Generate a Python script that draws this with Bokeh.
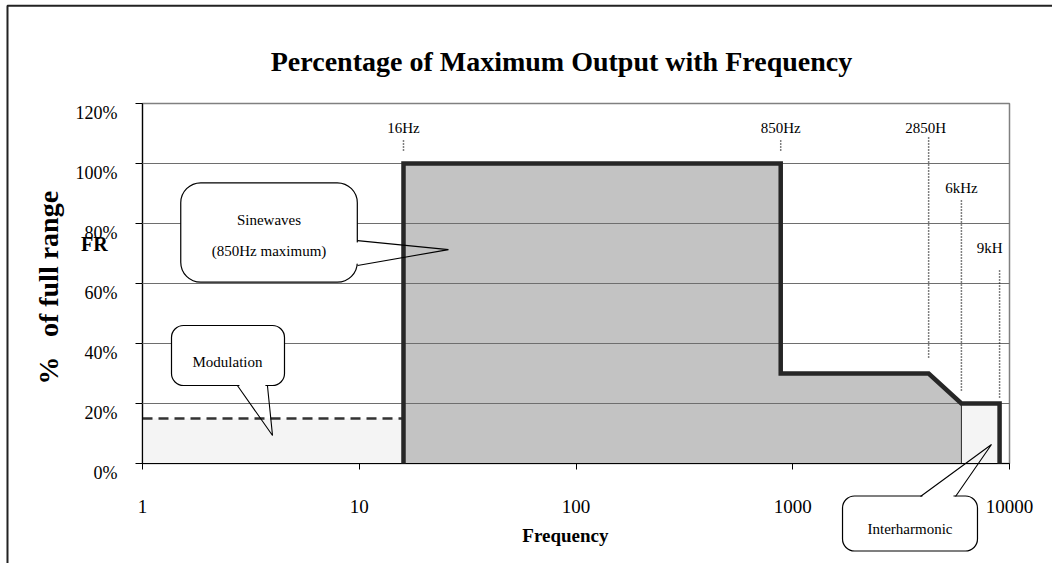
import math
from bokeh.plotting import figure
from bokeh.models import FixedTicker, CustomJSTickFormatter
from bokeh.core.properties import value
from bokeh.embed import file_html
from bokeh.resources import INLINE

# ---------------- data ----------------
x_ticks = [1, 10, 100, 1000, 10000]
y_ticks = [0, 20, 40, 60, 80, 100, 120]

# main sinewave envelope (Hz, % of full range)
main_freq = [16, 16, 880, 880, 4236, 6000, 6000]
main_pct = [0, 100, 100, 30, 30, 20, 0]

# thick outline of the allowed output
edge_freq = [16, 16, 880, 880, 4236, 6000, 9000, 9000]
edge_pct = [0, 100, 100, 30, 30, 20, 20, 0]

# modulation band
mod_freq = [1, 16]
mod_pct = 15

# interharmonic band
inter_freq = [6000, 9000]
inter_pct = 20

# frequency markers
mark_names = ["16Hz", "850Hz", "2850H", "6kHz", "9kH"]
mark_freq = [16, 880, 4236, 6000, 9000]
mark_label_freq = [16, 880, 4100, 6000, 8090]
mark_label_pct = [112, 112, 112, 92, 72]
mark_top = [108.3, 108.3, 108.7, 87.7, 65.0]
mark_bottom = [104.3, 104.3, 35.3, 24.3, 22.0]

SERIF = "Liberation Serif"

p = figure(width=1052, height=563, x_axis_type="log", x_range=(1, 10000), y_range=(0, 120),
           output_backend="svg", toolbar_location=None,
           min_border_left=142, min_border_right=43, min_border_top=103, min_border_bottom=100,
           background_fill_color="white", border_fill_color="white")
p.outline_line_color = "#808080"
p.outline_line_width = 1.5

# axes
p.xaxis.ticker = FixedTicker(ticks=x_ticks)
p.xaxis.formatter = CustomJSTickFormatter(code="return tick.toFixed(0);")
p.yaxis.ticker = FixedTicker(ticks=y_ticks)
p.yaxis.formatter = CustomJSTickFormatter(code="return '\\n' + tick.toFixed(0) + '%';")
for ax in (p.xaxis[0], p.yaxis[0]):
    ax.axis_line_color = "black"
    ax.axis_line_width = 1.2
    ax.major_tick_line_color = "black"
    ax.major_tick_in = 0
    ax.minor_tick_line_color = None
    ax.major_label_text_font = SERIF
    ax.major_label_text_color = "black"
p.xaxis.major_tick_out = 6
p.xaxis.major_label_standoff = 30
p.xaxis.major_label_text_font_size = "19px"
p.yaxis.major_tick_out = 7
p.yaxis.major_label_standoff = 18
p.yaxis.major_label_text_font_size = "18px"
p.yaxis.major_label_text_line_height = 0.9

p.xgrid.grid_line_color = None
p.ygrid.grid_line_color = "#6e6e6e"
p.ygrid.grid_line_width = 1.2
p.ygrid.level = "guide"

# fills
p.quad(left=mod_freq[0], right=mod_freq[1], bottom=0, top=mod_pct,
       fill_color="#f4f4f4", line_color=None)
p.line(mod_freq, [mod_pct, mod_pct], line_color="#333333", line_width=2.5, line_dash="10 6")
p.quad(left=inter_freq[0], right=inter_freq[1], bottom=0, top=inter_pct,
       fill_color="#f4f4f4", line_color="#444444", line_width=1)
p.patch(main_freq, main_pct, fill_color="#c3c3c3", line_color=None)
p.line([main_freq[-1], main_freq[-1]], [main_pct[-2], main_pct[-1]], line_color="#333333", line_width=1)

# frequency markers
for f, t, b in zip(mark_freq, mark_top, mark_bottom):
    p.line([f, f], [b, t], line_color="black", line_width=1.5, line_dash="1 2", level="overlay")
p.text(x=mark_label_freq, y=mark_label_pct, text=mark_names, text_font=value(SERIF),
       text_font_size=value("15px"), text_align="center", text_baseline="middle",
       text_color="black", level="overlay")

# thick outline
p.line(edge_freq, edge_pct, line_color="#262626", line_width=4.5, line_join="miter", level="overlay")

# ---------------- callouts ----------------
# padding order: (left, right, top, bottom); the padded box is centred on the anchor
def callout(text, x, y, yoff, pad, radius, base_a, base_b, tip, cover):
    p.text(x=[x], y=[y], y_offset=yoff, text=[text], text_font=value(SERIF),
           text_font_size=value("15px"), text_align="center", text_baseline="middle",
           text_color="black", text_line_height=0.98,
           background_fill_color="white", border_line_color="black",
           border_line_width=1.2, padding=pad, border_radius=radius, level="overlay")
    cx, cy = cover
    p.patch(cx, cy, fill_color="white", line_color=None, level="overlay")
    p.line([base_a[0], tip[0], base_b[0]], [base_a[1], tip[1], base_b[1]],
           line_color="black", line_width=1.1, level="overlay")

callout("Sinewaves\n\n(850Hz maximum)", 3.835, 77, 0, (31, 31, 29, 23), 20,
        (9.82, 74.3), (9.82, 66.0), (25.8, 71.3),
        ([9.5, 10.13, 10.13, 9.5], [73.7, 73.7, 66.6, 66.6]))
callout("Modulation", 2.48, 36, 0, (21, 22, 28, 16), 12,
        (2.74, 26), (3.77, 26), (3.98, 9.33),
        ([2.80, 3.69, 3.69, 2.80], [26.7, 26.7, 25.3, 25.3]))
callout("Interharmonic", 3475, 1, 63, (25, 25, 25, 14), 12,
        (3885, -11), (5636, -11), (8260, 6.33),
        ([3968, 5515, 5515, 3968], [-10.3, -10.3, -11.7, -11.7]))

# ---------------- texts around the frame ----------------
p.text(x=[85.7], y=[119], y_offset=-45, text=["Percentage of Maximum Output with Frequency"],
       text_font=value(SERIF), text_font_size=value("28px"), text_font_style="bold",
       text_align="center", text_baseline="middle", text_color="black", level="overlay")
p.text(x=[89.4], y=[1], y_offset=75, text=["Frequency"], text_font=value(SERIF),
       text_font_size=value("19px"), text_font_style="bold", text_align="center",
       text_baseline="middle", text_color="black", level="overlay")
p.text(x=[1.02, 1.02], y=[66.5, 31], x_offset=-96, text=["of full range", "%"],
       angle=math.pi / 2, text_font=value(SERIF), text_font_size=value("28px"),
       text_font_style="bold", text_align="center", text_baseline="middle",
       text_color="black", level="overlay")
p.text(x=[1.02], y=[73.2], x_offset=-50, text=["FR"], text_font=value(SERIF),
       text_font_size=value("20px"), text_font_style="bold", text_align="center",
       text_baseline="middle", text_color="black", level="overlay")

# outer frame of the page
p.line([0.2383, 0.2383, 30000], [-40, 152.6, 152.6], line_color="#222222", line_width=2,
       level="overlay")

open("out.html", "w").write(file_html(p, INLINE))
